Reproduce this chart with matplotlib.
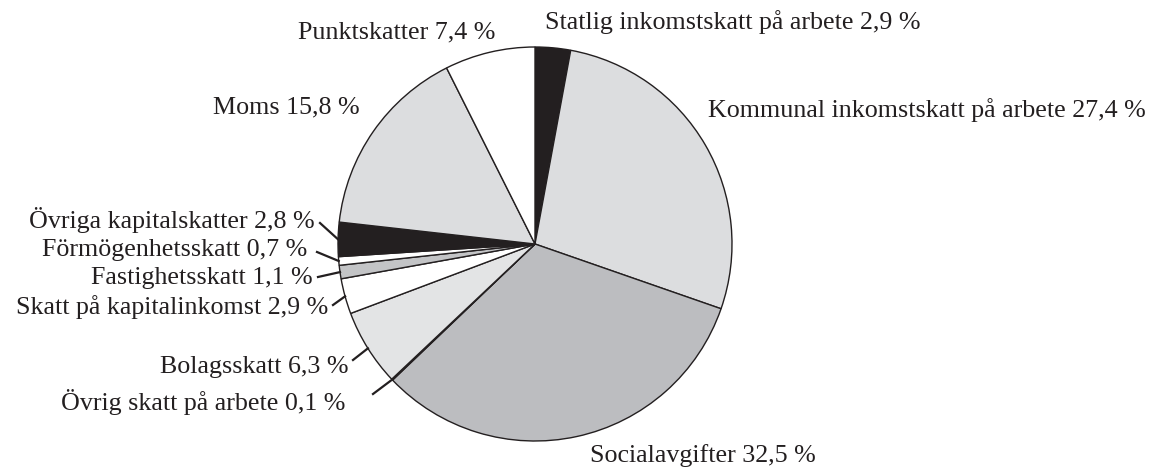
import numpy as np
import matplotlib.pyplot as plt

plt.rcParams['font.family'] = ['Liberation Serif', 'DejaVu Serif']

# data, clockwise from the top
labels = ["Statlig inkomstskatt på arbete", "Kommunal inkomstskatt på arbete",
          "Socialavgifter", "Övrig skatt på arbete", "Bolagsskatt",
          "Skatt på kapitalinkomst", "Fastighetsskatt", "Förmögenhetsskatt",
          "Övriga kapitalskatter", "Moms", "Punktskatter"]
shares = [2.9, 27.4, 32.5, 0.1, 6.3, 2.9, 1.1, 0.7, 2.8, 15.8, 7.4]
colors = ["#231f20", "#dcdddf", "#bcbdc0", "#6d6e70", "#e3e4e5",
          "#ffffff", "#c3c4c6", "#ffffff", "#231f20", "#dcdddf", "#ffffff"]

W, H = 1158, 468
cx, cy, r = 535, 244, 197

# label anchor (pixel coords, y from top) and alignment
text_pos = [(545, 22, 'left'), (708, 110, 'left'), (590, 456, 'left'),
            (345, 402, 'right'), (348, 367, 'right'), (328, 307, 'right'),
            (313, 278, 'right'), (307, 250, 'right'), (315, 220, 'right'),
            (360, 107, 'right'), (495, 32, 'right')]
# leader line start points for the small slices (None = no line)
line_start = [None, None, None, (373, 394), (353, 360), (333, 305),
              (318, 277), (317, 252), (320, 223), None, None]

fig = plt.figure(figsize=(W / 100, H / 100), dpi=100)
ax = fig.add_axes([0, 0, 1, 1])

wedges, _ = ax.pie(shares, colors=colors, startangle=90, counterclock=False,
                   center=(cx, H - cy), radius=r,
                   wedgeprops=dict(edgecolor='#231f20', linewidth=1.0))
ax.set_xlim(0, W)
ax.set_ylim(0, H)
ax.set_aspect('equal')
ax.axis('off')

for w, lab, val, (tx, ty, ha), ls in zip(wedges, labels, shares, text_pos, line_start):
    txt = f"{lab} {val:.1f} %".replace('.', ',')
    ax.text(tx, H - ty, txt, ha=ha, va='center', fontsize=18.7, color='#231f20')
    if ls is not None:
        th = np.deg2rad((w.theta1 + w.theta2) / 2)
        ex, ey = cx + r * np.cos(th), (H - cy) + r * np.sin(th)
        ax.plot([ls[0], ex], [H - ls[1], ey], color='#231f20', lw=1.6)

fig.savefig('out.png', dpi=100)
